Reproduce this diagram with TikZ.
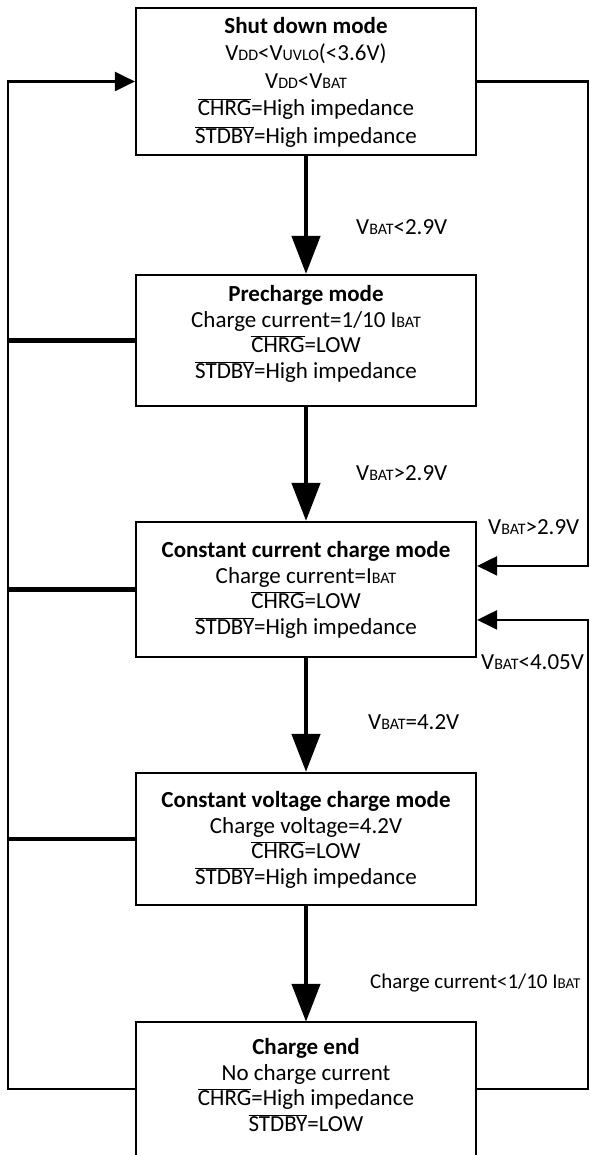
\documentclass[tikz,border=0pt]{standalone}
\usepackage{fontspec}
\setmainfont{Carlito}
\usetikzlibrary{arrows.meta,calc}
\newcommand{\sm}[1]{{\fontsize{16}{16}\selectfont #1}}
\newcommand{\smm}[1]{{\fontsize{15}{15}\selectfont #1}}
\newcommand{\ovl}[1]{$\overline{\mbox{#1}}$}
\begin{document}
\begin{tikzpicture}[x=1pt,y=-1pt,
  box/.style={draw,line width=2.2pt,minimum width=340pt,inner sep=0pt},
  txt/.style={align=center,inner sep=0pt,font=\fontsize{23}{25.5}\selectfont},
  lbl/.style={anchor=west,inner sep=0pt,font=\fontsize{23}{25}\selectfont},
  flow/.style={line width=4.5pt,-{Triangle[length=38pt,width=28pt]}},
  loop/.style={line width=2.2pt},
  loopin/.style={line width=2.2pt,-{Triangle[length=20pt,width=19pt]}},
  stub/.style={line width=4.2pt}]
\useasboundingbox (0,0) rectangle (590,1155);
% boxes
\node[box,minimum height=147pt] (b1) at (306,81.5) {};
\node[box,minimum height=131pt] (b2) at (306,340.5) {};
\node[box,minimum height=135pt] (b3) at (306,589.5) {};
\node[box,minimum height=132pt] (b4) at (306,839) {};
\node[minimum width=340pt,minimum height=134pt,inner sep=0pt] (b5) at (306,1089) {};
\draw[loop] (b5.south west) -- (b5.north west) -- (b5.north east) -- (b5.south east);
% texts
\node[txt,font=\fontsize{23}{27.5}\selectfont] (t1) at (306,82) {\textbf{Shut down mode}\\V\sm{DD}<V\sm{UVLO}(<3.6V)\\V\sm{DD}<V\sm{BAT}\\\ovl{CHRG}=High impedance\\\ovl{STDBY}=High impedance};
\node[txt] (t2) at (306,334) {\textbf{Precharge mode}\\Charge current=1/10 I\sm{BAT}\\\ovl{CHRG}=LOW\\\ovl{STDBY}=High impedance};
\node[txt] (t3) at (306,590) {\textbf{Constant current charge mode}\\Charge current=I\sm{BAT}\\\ovl{CHRG}=LOW\\\ovl{STDBY}=High impedance};
\node[txt] (t4) at (306,840) {\textbf{Constant voltage charge mode}\\Charge voltage=4.2V\\\ovl{CHRG}=LOW\\\ovl{STDBY}=High impedance};
\node[txt] (t5) at (306,1085) {\textbf{Charge end}\\No charge current\\\ovl{CHRG}=High impedance\\\ovl{STDBY}=LOW};
% main flow
\draw[flow] (b1.south) -- (b2.north);
\draw[flow] (b2.south) -- (b3.north);
\draw[flow] (b3.south) -- (b4.north);
\draw[flow] (b4.south) -- (b5.north);
% flow labels
\node[lbl] (l1) at (356,227) {V\sm{BAT}<2.9V};
\node[lbl] (l2) at (356,473) {V\sm{BAT}>2.9V};
\node[lbl] (l3) at (368,722) {V\sm{BAT}=4.2V};
\node[lbl,font=\fontsize{21}{24}\selectfont] (l4) at (370,983) {Charge current<1/10 I\smm{BAT}};
% left loop
\coordinate (lb) at (8,1089);
\coordinate (lt) at (8,81.5);
\draw[loopin] (b5.west) -- (lb) -- (lt) -- (b1.west);
\draw[stub] (b2.west) -- (8,340.5);
\draw[stub] (b3.west) -- (8,589.5);
\draw[stub] (b4.west) -- (8,839);
% right loops
\coordinate (in1) at ($(b3.north east)+(0,45)$);
\coordinate (in2) at ($(b3.north east)+(0,99)$);
\coordinate (r1) at (588,81.5);
\coordinate (r2) at (588,1089);
\draw[loopin] (b1.east) -- (r1) |- (in1);
\draw[loopin] (b5.east) -- (r2) |- (in2);
\node[lbl] (l5) at (488,527) {V\sm{BAT}>2.9V};
\node[lbl] (l6) at (481,662) {V\sm{BAT}<4.05V};
\end{tikzpicture}
\end{document}
